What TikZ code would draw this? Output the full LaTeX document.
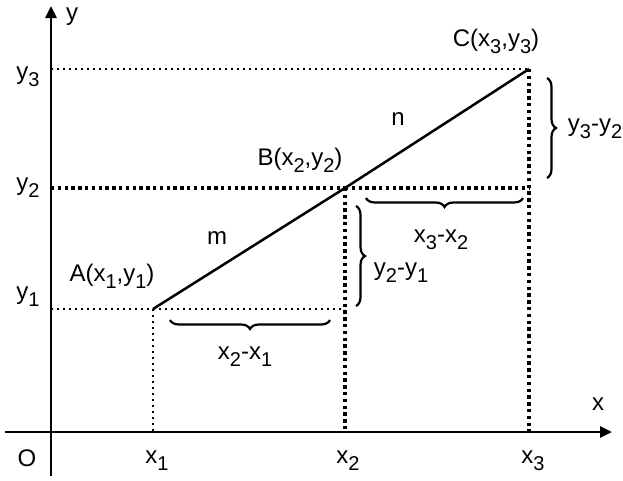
\documentclass[tikz,border=0pt]{standalone}
\usepackage{fontspec}
\setmainfont{Liberation Sans}
\usetikzlibrary{decorations.pathreplacing,arrows.meta}
\newcommand{\lo}[1]{\raisebox{-0.3em}{\fontsize{20}{20}\selectfont #1}}
\begin{document}
\begin{tikzpicture}[x=1pt,y=-1pt,
  lbl/.style={font=\fontsize{24}{24}\selectfont, inner sep=1pt},
  axis/.style={line width=2.8pt,-{Triangle[length=12pt,width=11pt]}},
  thindot/.style={line width=1.8pt,dash pattern=on 1.8pt off 4.2pt},
  thickdot/.style={line width=3.4pt,dash pattern=on 3.4pt off 3.4pt},
  brc/.style={line width=2.2pt,decorate,decoration={brace,amplitude=9pt}}]
\useasboundingbox (0,0) rectangle (623,480);
% key coordinates
\coordinate (O) at (51,432);
\coordinate (A) at (153,309);
\coordinate (B) at (345,188);
\coordinate (C) at (529,69);
\coordinate (xa) at (153,432);
\coordinate (xb) at (345,432);
\coordinate (xc) at (529,432);
\coordinate (ya) at (51,309);
\coordinate (yb) at (51,188);
\coordinate (yc) at (51,69);
\coordinate (xs) at (5,432);
\coordinate (xe) at (612,432);
\coordinate (ys) at (51,476);
\coordinate (ye) at (51,6);
\coordinate (bx) at (345,309);
\coordinate (cy) at (529,188);
% dotted guides
\draw[thindot] (yc) -- (C);
\draw[thindot] (ya) -- (A);
\draw[thindot] (A) -- (bx);
\draw[thindot] (A) -- (xa);
\draw[thickdot] (yb) -- (B);
\draw[thickdot] (B) -- (cy);
\draw[thickdot] (B) -- (xb);
\draw[thickdot] (C) -- (xc);
% axes
\draw[axis] (xs) -- (xe);
\draw[axis] (ys) -- (ye);
% main line
\draw[line width=2.5pt] (A) -- (B) -- (C);
% braces
\coordinate (b1s) at (330,320); \coordinate (b1e) at (170,320);
\draw[brc] (b1s) -- (b1e);
\coordinate (b2s) at (523,198); \coordinate (b2e) at (366,198);
\draw[brc] (b2s) -- (b2e);
\coordinate (b3s) at (356,306); \coordinate (b3e) at (356,206);
\draw[brc] (b3e) -- (b3s);
\coordinate (b4s) at (547,178); \coordinate (b4e) at (547,78);
\draw[brc] (b4e) -- (b4s);
% labels
\node[lbl] (ly) at (72,17) {y};
\node[lbl] (lx) at (598,404) {x};
\node[lbl] (lO) at (27,458) {O};
\node[lbl] (ly3) at (28,77) {y\lo{3}};
\node[lbl] (ly2) at (28,188) {y\lo{2}};
\node[lbl] (ly1) at (28,297) {y\lo{1}};
\node[lbl] (lx1) at (157,461) {x\lo{1}};
\node[lbl] (lx2) at (348,461) {x\lo{2}};
\node[lbl] (lx3) at (533,461) {x\lo{3}};
\node[lbl] (lA) at (112,276) {A(x\lo{1},y\lo{1})};
\node[lbl] (lB) at (300,160) {B(x\lo{2},y\lo{2})};
\node[lbl] (lC) at (496,41) {C(x\lo{3},y\lo{3})};
\node[lbl] (lm) at (217,238) {m};
\node[lbl] (ln) at (398,119) {n};
\node[lbl] (d1) at (245,357) {x\lo{2}-x\lo{1}};
\node[lbl] (d2) at (441,240) {x\lo{3}-x\lo{2}};
\node[lbl] (d3) at (401,273) {y\lo{2}-y\lo{1}};
\node[lbl] (d4) at (595,129) {y\lo{3}-y\lo{2}};
\end{tikzpicture}
\end{document}
